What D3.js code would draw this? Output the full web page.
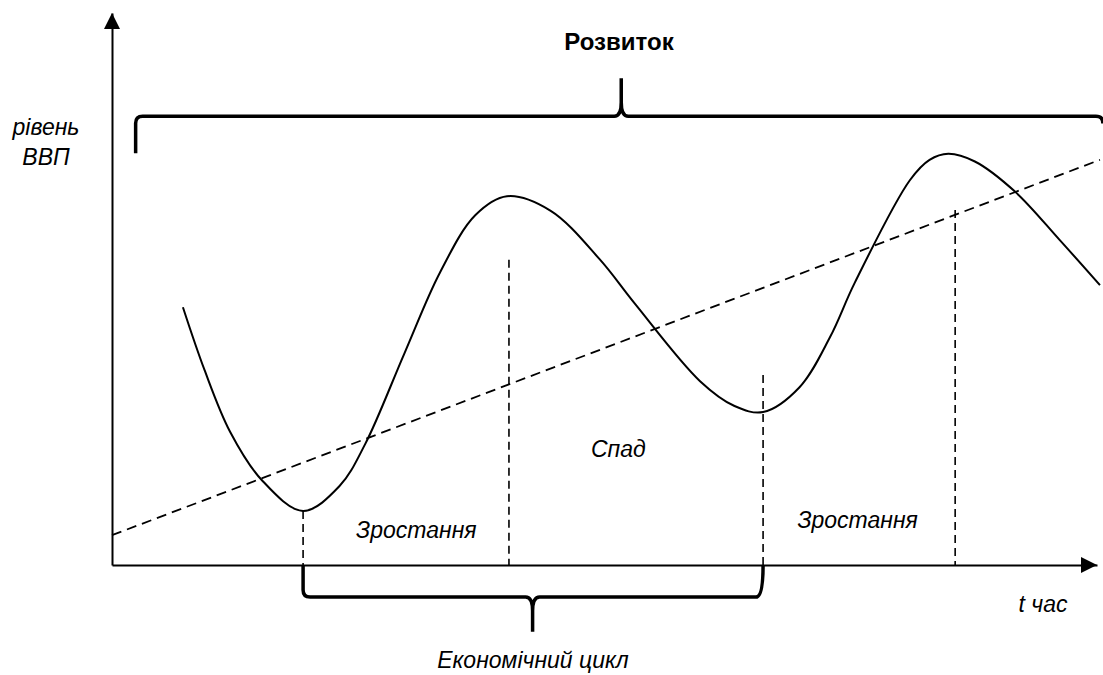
<!DOCTYPE html>
<html>
<head>
<meta charset="utf-8">
<script src="https://cdn.jsdelivr.net/npm/d3@7"></script>
<style>
  body { margin: 0; background: #fff; }
  text { font-family: "Liberation Sans", Arial, sans-serif; fill: #000; }
</style>
</head>
<body>
<div id="chart"></div>
<script>
// curve of GDP level (time, level)
var cycleT = [7.2, 9.4, 12.0, 15.2, 19.4, 23.1, 25.7, 29.7, 33.3, 36.9, 40.1, 44.5, 49.5, 53.1, 59.7, 63.2, 66.1, 69.8, 72.9, 75.4, 81.0, 83.0, 84.9, 87.6, 91.7, 96.2, 100.3];
var cycleV = [46.7, 35.3, 24.1, 15.4, 9.8, 14.3, 21.9, 38.4, 53.0, 63.4, 66.8, 64.2, 55.4, 47.3, 33.3, 28.8, 27.7, 32.2, 41.3, 51.1, 69.7, 73.4, 74.5, 73.1, 67.6, 58.9, 50.7];

// long-run trend
var trendT = [0, 100.3];
var trendV = [5.4, 73.4];

// phase boundaries (time, top of the dashed line)
var phaseT = [19.4, 40.3, 66.1, 85.6];
var phaseTop = [9.8, 55.3, 34.4, 64.3];

// labels
var phaseLabels = ["Зростання", "Спад", "Зростання"];
var phaseLabelT = [30.9, 51.4, 75.7];
var phaseLabelV = [4.9, 19.6, 6.7];

var width = 1103, height = 675;

var x = d3.scaleLinear().domain([0, 100]).range([112, 1097]);
var y = d3.scaleLinear().domain([0, 100]).range([565, 13]);

var svg = d3.select('#chart').append('svg')
    .attr('width', width)
    .attr('height', height);

// axes, no ticks
var xAxis = svg.append('g')
    .attr('transform', 'translate(0,' + y(0) + ')')
    .call(d3.axisBottom(x).tickValues([]).tickSizeOuter(0));
var yAxis = svg.append('g')
    .attr('transform', 'translate(' + x(0) + ',0)')
    .call(d3.axisLeft(y).tickValues([]).tickSizeOuter(0));
svg.selectAll('.domain').attr('stroke', '#000').attr('stroke-width', 2);

// arrow heads
svg.append('path')
    .attr('d', 'M' + x(0) + ',' + y(100) + 'l-8,16l16,0z')
    .attr('fill', '#000');
svg.append('path')
    .attr('d', 'M' + x(100) + ',' + y(0) + 'l-16,-8l0,16z')
    .attr('fill', '#000');

// trend
var trend = trendT.map(function(t, i) { return [t, trendV[i]]; });
svg.append('path')
    .datum(trend)
    .attr('d', d3.line().x(d => x(d[0])).y(d => y(d[1])))
    .attr('fill', 'none')
    .attr('stroke', '#000')
    .attr('stroke-width', 1.8)
    .attr('stroke-dasharray', '10,6');

// phase separators
svg.selectAll('.phase')
    .data(phaseT)
    .enter().append('line')
    .attr('x1', d => x(d)).attr('x2', d => x(d))
    .attr('y1', (d, i) => y(phaseTop[i]))
    .attr('y2', y(0))
    .attr('stroke', '#000')
    .attr('stroke-width', 1.6)
    .attr('stroke-dasharray', '8,5');

// GDP curve
var cycle = cycleT.map(function(t, i) { return [t, cycleV[i]]; });
svg.append('path')
    .datum(cycle)
    .attr('d', d3.line().x(d => x(d[0])).y(d => y(d[1])).curve(d3.curveCatmullRom.alpha(0.5)))
    .attr('fill', 'none')
    .attr('stroke', '#000')
    .attr('stroke-width', 2);

// braces
function brace(x0, x1, xm, yl, yend0, yend1, ytip) {
    var dir = ytip < yl ? -1 : 1; // tip direction
    var r = 7;
    var p = d3.path();
    p.moveTo(x0, yend0);
    p.lineTo(x0, yl - dir * r);
    p.quadraticCurveTo(x0, yl, x0 + r, yl);
    p.lineTo(xm - r, yl);
    p.quadraticCurveTo(xm, yl, xm, yl + dir * 2 * r);
    p.lineTo(xm, ytip);
    p.moveTo(xm, yl + dir * 2 * r);
    p.quadraticCurveTo(xm, yl, xm + r, yl);
    p.lineTo(x1 - r, yl);
    p.quadraticCurveTo(x1, yl, x1, yend1);
    return p.toString();
}

svg.append('path')
    .attr('d', brace(x(2.4), x(100.6), x(51.7), y(81.3), y(74.6), y(80), y(88.2)))
    .attr('fill', 'none').attr('stroke', '#000').attr('stroke-width', 3.5);

svg.append('path')
    .attr('d', brace(x(19.4), x(66.1), x(42.7), y(-5.8), y(0), y(0), y(-12.1)))
    .attr('fill', 'none').attr('stroke', '#000').attr('stroke-width', 3.5);

// labels
svg.selectAll('.lab')
    .data(phaseLabels)
    .enter().append('text')
    .attr('x', (d, i) => x(phaseLabelT[i]))
    .attr('y', (d, i) => y(phaseLabelV[i]))
    .attr('text-anchor', 'middle')
    .style('font-style', 'italic')
    .style('font-size', '23px')
    .text(d => d);

svg.append('text')
    .attr('x', 619).attr('y', 50)
    .attr('text-anchor', 'middle')
    .style('font-weight', 'bold')
    .style('font-size', '24px')
    .text('Розвиток');

svg.append('text')
    .attr('x', 46).attr('y', 135)
    .attr('text-anchor', 'middle')
    .style('font-style', 'italic')
    .style('font-size', '23px')
    .text('рівень');
svg.append('text')
    .attr('x', 46).attr('y', 165)
    .attr('text-anchor', 'middle')
    .style('font-style', 'italic')
    .style('font-size', '23px')
    .text('ВВП');

svg.append('text')
    .attr('x', 1043).attr('y', 612)
    .attr('text-anchor', 'middle')
    .style('font-style', 'italic')
    .style('font-size', '23px')
    .text('t час');

svg.append('text')
    .attr('x', 533).attr('y', 668)
    .attr('text-anchor', 'middle')
    .style('font-style', 'italic')
    .style('font-size', '23px')
    .text('Економічний цикл');
</script>
</body>
</html>
